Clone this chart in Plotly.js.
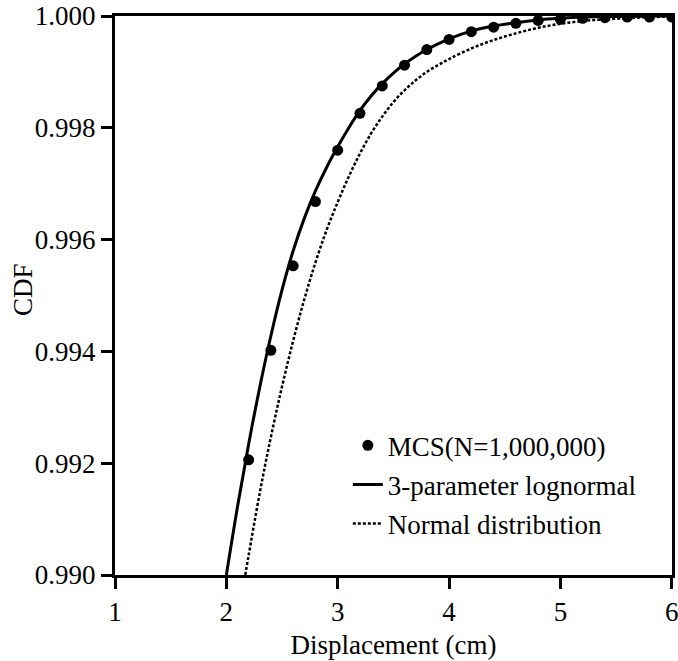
<!DOCTYPE html>
<html>
<head>
<meta charset="utf-8">
<script src="https://cdn.plot.ly/plotly-3.0.1.min.js"></script>
<style>html,body{margin:0;padding:0;background:#fff;}#chart{width:678px;height:661px;}</style>
</head>
<body>
<div id="chart"></div>
<script>
// MCS sample points
const mcsX = [2.2, 2.4, 2.6, 2.8, 3.0, 3.2, 3.4, 3.6, 3.8, 4.0, 4.2, 4.4, 4.6, 4.8, 5.0, 5.2, 5.4, 5.6, 5.8, 6.0];
const mcsY = [0.99206, 0.99402, 0.99553, 0.99668, 0.99760, 0.99826, 0.99875, 0.99912, 0.99940, 0.99958,
              0.99972, 0.99980, 0.99987, 0.99992, 0.99994, 0.99996, 0.99997, 0.99998, 0.99998, 0.99998];

// 3-parameter lognormal curve
const logX = [2.0, 2.1, 2.2, 2.3, 2.4, 2.5, 2.6, 2.7, 2.8, 2.9, 3.0, 3.1, 3.2, 3.3, 3.4, 3.5, 3.6, 3.7, 3.8, 3.9,
              4.0, 4.2, 4.4, 4.6, 4.8, 5.0, 5.2, 5.4, 5.6, 5.8, 6.0];
const logY = [0.99000, 0.99122, 0.99234, 0.99336, 0.99428, 0.99510, 0.99580, 0.99638, 0.99687, 0.99729,
              0.99766, 0.99800, 0.99831, 0.99857, 0.99879, 0.99898, 0.99914, 0.99928, 0.99940, 0.99950,
              0.99959, 0.99973, 0.99982, 0.99988, 0.99993, 0.99996, 0.99998, 0.99999, 0.99999, 1.00000, 1.00000];

// Normal distribution curve
const normX = [2.17, 2.2, 2.3, 2.4, 2.5, 2.6, 2.7, 2.8, 2.9, 3.0, 3.1, 3.2, 3.3, 3.4, 3.5, 3.6, 3.7, 3.8, 3.9,
               4.0, 4.2, 4.4, 4.6, 4.8, 5.0, 5.2, 5.4, 5.6, 5.8, 6.0];
const normY = [0.99000, 0.99035, 0.99147, 0.99247, 0.99337, 0.99419, 0.99493, 0.99559, 0.99617, 0.99667,
               0.99713, 0.99754, 0.99790, 0.99820, 0.99846, 0.99867, 0.99885, 0.99900, 0.99912,
               0.99923, 0.99942, 0.99957, 0.99969, 0.99979, 0.99986, 0.99991, 0.99994, 0.99996, 0.99998, 0.99999];

const xTicks = [1, 2, 3, 4, 5, 6];
const yTicks = [0.990, 0.992, 0.994, 0.996, 0.998, 1.000];
const yTickText = ["0.990", "0.992", "0.994", "0.996", "0.998", "1.000"];

const names = ["MCS(N=1,000,000)", "3-parameter lognormal", "Normal distribution"];
const FONT = "'Liberation Serif', 'Times New Roman', Times, 'DejaVu Serif', serif";

const traces = [
  {x: logX, y: logY, mode: "lines", name: names[1], legendrank: 2, legendgroup: "b",
   line: {color: "#000", width: 3, shape: "spline"}},
  {x: normX, y: normY, mode: "lines", name: names[2], legendrank: 3, legendgroup: "c",
   line: {color: "#000", width: 2.5, dash: "3px,2px", shape: "spline"}},
  {x: mcsX, y: mcsY, mode: "markers", name: names[0], legendrank: 1, legendgroup: "a",
   marker: {color: "#000", size: 11, symbol: "circle"}}
];

const layout = {
  width: 678, height: 661,
  margin: {l: 115, r: 6, t: 16, b: 86},
  paper_bgcolor: "#fff", plot_bgcolor: "#fff",
  font: {family: FONT, size: 27, color: "#000"},
  showlegend: true,
  legend: {x: 0.418, y: 0.275, xanchor: "left", yanchor: "top", bgcolor: "rgba(0,0,0,0)",
           font: {family: FONT, size: 27, color: "#000"}, traceorder: "grouped", tracegroupgap: 1},
  xaxis: {range: [1, 6.002], tickvals: xTicks, ticktext: xTicks.map(String), ticklabeloverflow: "allow",
          showgrid: false, zeroline: false, showline: true, linecolor: "#000", linewidth: 3, mirror: true,
          ticks: "outside", ticklen: 11, tickwidth: 3, tickcolor: "#000",
          title: {text: "Displacement (cm)", font: {family: FONT, size: 27, color: "#000"}, standoff: 9}},
  yaxis: {range: [0.990, 1.000], tickvals: yTicks, ticktext: yTickText,
          showgrid: false, zeroline: false, showline: true, linecolor: "#000", linewidth: 3, mirror: true,
          ticks: "outside", ticklen: 11, tickwidth: 3, tickcolor: "#000"},
  annotations: [{text: "CDF", xref: "paper", yref: "paper", x: -0.165, y: 0.51, xanchor: "center", yanchor: "middle",
                 textangle: -90, showarrow: false, font: {family: FONT, size: 27, color: "#000"}}]
};

Plotly.newPlot("chart", traces, layout, {staticPlot: true, displayModeBar: false});
</script>
</body>
</html>
